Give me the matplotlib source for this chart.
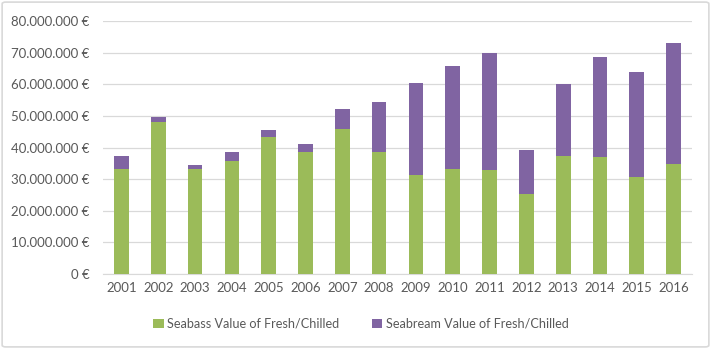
import matplotlib
matplotlib.use("Agg")
import matplotlib.pyplot as plt
from matplotlib.patches import FancyBboxPatch
from matplotlib.ticker import FuncFormatter

years = ["2001", "2002", "2003", "2004", "2005", "2006", "2007", "2008",
         "2009", "2010", "2011", "2012", "2013", "2014", "2015", "2016"]
seabass = [33.3, 48.0, 33.1, 35.7, 43.3, 38.6, 45.8, 38.6,
           31.4, 33.3, 32.9, 25.4, 37.4, 37.0, 30.7, 34.8]
total = [37.3, 49.7, 34.6, 38.5, 45.6, 41.1, 52.2, 54.4,
         60.4, 65.9, 70.0, 39.3, 60.1, 68.7, 63.9, 73.0]
seabream = [t - s for t, s in zip(total, seabass)]
seabass_v = [v * 1e6 for v in seabass]
seabream_v = [v * 1e6 for v in seabream]
series_names = ["Seabass Value of Fresh/Chilled", "Seabream Value of Fresh/Chilled"]

plt.rcParams['font.family'] = ['Lato', 'DejaVu Sans']
txt = '#595959'

fig = plt.figure(figsize=(7.11, 3.49), dpi=100)
ax = fig.add_axes([0.1449, 0.2149, 0.8284, 0.7249])

x = range(len(years))
ax.bar(x, seabass_v, width=0.4, color='#9BBB59', label=series_names[0], zorder=3)
ax.bar(x, seabream_v, width=0.4, bottom=seabass_v, color='#8064A2', label=series_names[1], zorder=3)

ax.set_xlim(-0.5, len(years) - 0.5)
ax.set_ylim(0, 80e6)
ax.set_yticks([i * 10e6 for i in range(9)])
ax.yaxis.set_major_formatter(FuncFormatter(lambda v, p: f"{int(v):,}".replace(",", ".") + " €"))
ax.set_xticks(list(x))
ax.set_xticklabels(years)
ax.grid(axis='y', color='#D9D9D9', linewidth=0.9, zorder=0)
for s in ['top', 'right', 'left']:
    ax.spines[s].set_visible(False)
ax.spines['bottom'].set_color('#D9D9D9')
ax.tick_params(axis='both', length=0, colors=txt, labelsize=9.5)
ax.tick_params(axis='y', pad=10)
ax.tick_params(axis='x', pad=6)

leg = fig.legend(loc='center', bbox_to_anchor=(0.508, 0.072), ncol=2, frameon=False,
                 fontsize=9.1, handlelength=0.8, handleheight=0.8, columnspacing=2.6,
                 handletextpad=0.3)
for t in leg.get_texts():
    t.set_color(txt)

border = FancyBboxPatch((0.003, 0.006), 0.994, 0.988, boxstyle="round,pad=0,rounding_size=0.005",
                        transform=fig.transFigure, fill=False, edgecolor='#D9D9D9', linewidth=1.2)
fig.patches.append(border)

fig.savefig("out.png", dpi=100)
